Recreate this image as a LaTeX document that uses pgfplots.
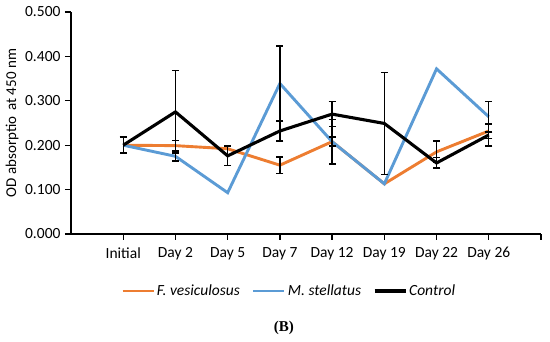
\documentclass[border=0pt]{standalone}
\usepackage{fontspec}
\setmainfont{Carlito}
\newfontfamily\serifB{Liberation Serif}
\usepackage{pgfplots}
\pgfplotsset{compat=1.18}
\definecolor{corange}{HTML}{ED7D31}
\definecolor{cblue}{HTML}{5B9BD5}
\pgfplotsset{
  ebar/.style={draw=none, no markers, forget plot,
    error bars/y dir=both, error bars/y explicit,
    error bars/error bar style={black, line width=1.4pt},
    error bars/error mark options={rotate=90, mark size=3.5pt, black, line width=1.6pt}},
}
\begin{document}
\begin{tikzpicture}
\useasboundingbox (-71pt,-108pt) rectangle (479pt,234pt);
\begin{axis}[
  scale only axis,
  width=470pt, height=222pt,
  xmin=-1, xmax=8,
  ymin=0, ymax=0.5,
  axis x line=bottom, axis y line=left,
  axis line style={line width=1.6pt, -},
  xtick={0,1,2,3,4,5,6,7,8},
  xticklabels={Initial,Day 2,Day 5,Day 7,Day 12,Day 19,Day 22,Day 26,},
  ytick={0,0.1,0.2,0.3,0.4,0.5},
  yticklabel style={xshift=-1pt, /pgf/number format/.cd, fixed, fixed zerofill, precision=3},
  /pgf/number format/assume math mode=true,
  tick style={line width=1.3pt, black},
  tick align=outside,
  major tick length=6pt,
  ticklabel style={font=\fontsize{15.5}{17}\selectfont},
  xticklabel style={yshift=-4pt},
  ylabel={OD absorptio\, at 450 nm},
  ylabel style={font=\fontsize{15}{17}\selectfont, at={(axis description cs:-0.125,0.5)}, anchor=center},
  legend style={draw=none, at={(axis description cs:0.464,-0.257)}, anchor=center,
    legend columns=3, font=\fontsize{15.5}{17}\selectfont\itshape,
    /tikz/every even column/.append style={column sep=10pt}},
  legend image code/.code={\draw[#1] (0pt,0pt) -- (31pt,0pt);},
  clip=false,
]
\addplot[corange, line width=2.9pt, no markers] coordinates {
 (0,0.200) (1,0.199) (2,0.192) (3,0.155) (4,0.208) (5,0.113) (6,0.185) (7,0.232)};
\addlegendentry{F. vesiculosus}
\addplot[cblue, line width=2.9pt, no markers] coordinates {
 (0,0.200) (1,0.175) (2,0.093) (3,0.339) (4,0.208) (5,0.113) (6,0.372) (7,0.264)};
\addlegendentry{M. stellatus}
\addplot[black, line width=3.1pt, no markers] coordinates {
 (0,0.200) (1,0.275) (2,0.176) (3,0.232) (4,0.270) (5,0.249) (6,0.160) (7,0.223)};
\addlegendentry{Control}
% error bars
\addplot[ebar] coordinates {
 (1,0.199) +- (0,0.012)
 (3,0.155) +- (0,0.019)
 (4,0.208) +- (0,0.010)
 (6,0.185) +- (0,0.024)
 (7,0.232) +- (0,0.017)};
\addplot[ebar] coordinates {
 (1,0.175) +- (0,0.010)
 (3,0.339) +- (0,0.085)
 (4,0.208) +- (0,0.050)
 (7,0.264) +- (0,0.034)};
\addplot[ebar] coordinates {
 (0,0.200) +- (0,0.018)
 (1,0.275) +- (0,0.093)
 (2,0.176) +- (0,0.022)
 (3,0.232) +- (0,0.023)
 (4,0.270) +- (0,0.028)
 (5,0.249) +- (0,0.115)
 (6,0.160) +- (0,0.012)
 (7,0.223) +- (0,0.025)};
\node[font=\serifB\bfseries\fontsize{15}{17}\selectfont] at (axis description cs:0.453,-0.423) {(B)};
\end{axis}
\end{tikzpicture}
\end{document}
